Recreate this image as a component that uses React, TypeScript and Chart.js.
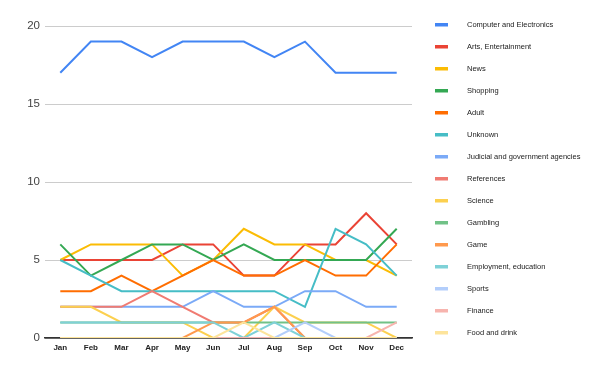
import React, { useEffect, useRef } from "react";
import { Chart, registerables } from "chart.js";

Chart.register(...registerables);

const months = ["Jan", "Feb", "Mar", "Apr", "May", "Jun", "Jul", "Aug", "Sep", "Oct", "Nov", "Dec"];
const yTicks = [0, 5, 10, 15, 20];

const computer = [17, 19, 19, 18, 19, 19, 19, 18, 19, 17, 17, 17];
const arts = [5, 5, 5, 5, 6, 6, 4, 4, 6, 6, 8, 6];
const news = [5, 6, 6, 6, 4, 5, 7, 6, 6, 5, 5, 4];
const shopping = [6, 4, 5, 6, 6, 5, 6, 5, 5, 5, 5, 7];
const adult = [3, 3, 4, 3, 4, 5, 4, 4, 5, 4, 4, 6];
const unknown = [5, 4, 3, 3, 3, 3, 3, 3, 2, 7, 6, 4];
const judicial = [2, 2, 2, 2, 2, 3, 2, 2, 3, 3, 2, 2];
const references = [2, 2, 2, 3, 2, 1, 1, 2, 0, 0, 0, 0];
const science = [2, 2, 1, 1, 1, 0, 0, 2, 1, 1, 1, 0];
const gambling = [1, 1, 1, 1, 1, 1, 1, 1, 1, 1, 1, 1];
const game = [0, 0, 0, 0, 0, 1, 1, 2, 0, 0, 0, 0];
const employment = [1, 1, 1, 1, 1, 1, 0, 1, 0, 0, 0, 0];
const sports = [0, 0, 0, 0, 0, 0, 0, 0, 1, 0, 0, 0];
const finance = [0, 0, 0, 0, 0, 0, 0, 0, 0, 0, 0, 1];
const food = [0, 0, 0, 0, 0, 0, 1, 0, 0, 0, 0, 0];

const seriesNames = [
  "Computer and Electronics",
  "Arts, Entertainment",
  "News",
  "Shopping",
  "Adult",
  "Unknown",
  "Judicial and government agencies",
  "References",
  "Science",
  "Gambling",
  "Game",
  "Employment, education",
  "Sports",
  "Finance",
  "Food and drink",
];
const seriesValues = [
  computer, arts, news, shopping, adult, unknown, judicial, references,
  science, gambling, game, employment, sports, finance, food,
];
const seriesColors = [
  "#4285F4", "#EA4335", "#FBBC04", "#34A853", "#FF6D01", "#46BDC6", "#7BAAF7",
  "#F07B72", "#FCD04F", "#71C287", "#FF994D", "#7ED1D7", "#B3CEFB", "#F7B4AE", "#FDE49B",
];

const legendPlugin = {
  id: "sideLegend",
  afterDraw(chart: any) {
    const ctx = chart.ctx;
    ctx.save();
    ctx.font = "7.5px 'Liberation Sans', Arial, sans-serif";
    ctx.textBaseline = "middle";
    ctx.textAlign = "left";
    chart.data.datasets.forEach((ds: any, i: number) => {
      const y = 24.5 + 22 * i;
      ctx.fillStyle = ds.borderColor;
      ctx.fillRect(435, y - 1.5, 13, 3.5);
      ctx.fillStyle = "#222";
      ctx.fillText(ds.label, 467, y + 0.5);
    });
    ctx.restore();
  },
};

export default function App() {
  const ref = useRef<HTMLCanvasElement | null>(null);
  useEffect(() => {
    if (!ref.current) return;
    const n = seriesNames.length;
    const chart = new Chart(ref.current, {
      type: "line",
      data: {
        labels: months,
        datasets: seriesNames.map((name, i) => ({
          label: name,
          data: seriesValues[i],
          borderColor: seriesColors[i],
          backgroundColor: seriesColors[i],
          borderWidth: 2,
          pointRadius: 0,
          tension: 0,
          fill: false,
          order: n - 1 - i,
        })),
      },
      options: {
        responsive: false,
        animation: false,
        layout: { padding: { left: 0, top: 26, right: 188, bottom: 0 } },
        plugins: { legend: { display: false }, tooltip: { enabled: false } },
        scales: {
          x: {
            offset: true,
            grid: { display: false, drawTicks: false },
            border: { display: true, color: "#333", width: 1.5 },
            ticks: {
              color: "#222",
              padding: 5,
              maxRotation: 0,
              autoSkip: false,
              font: { family: "'Liberation Sans', Arial, sans-serif", size: 8, weight: "bold" },
            },
            afterFit: (s: any) => { s.height = 33; },
          },
          y: {
            min: 0,
            max: 20,
            afterBuildTicks: (s: any) => { s.ticks = yTicks.map((v) => ({ value: v })); },
            grid: {
              drawTicks: false,
              color: (c: any) => (c.tick && c.tick.value === 0 ? "#333" : "#ccc"),
              lineWidth: (c: any) => (c.tick && c.tick.value === 0 ? 1.5 : 1),
            },
            border: { display: false },
            ticks: {
              color: "#444",
              padding: 5,
              font: { family: "'Liberation Sans', Arial, sans-serif", size: 11.5 },
            },
            afterFit: (s: any) => { s.width = 45; },
          },
        },
      },
      plugins: [legendPlugin],
    });
    return () => chart.destroy();
  }, []);
  return (
    <div style={{ position: "fixed", left: 0, top: 0, width: 600, height: 371, background: "#fff" }}>
      <canvas ref={ref} width={600} height={371} style={{ width: 600, height: 371, display: "block" }} />
    </div>
  );
}
